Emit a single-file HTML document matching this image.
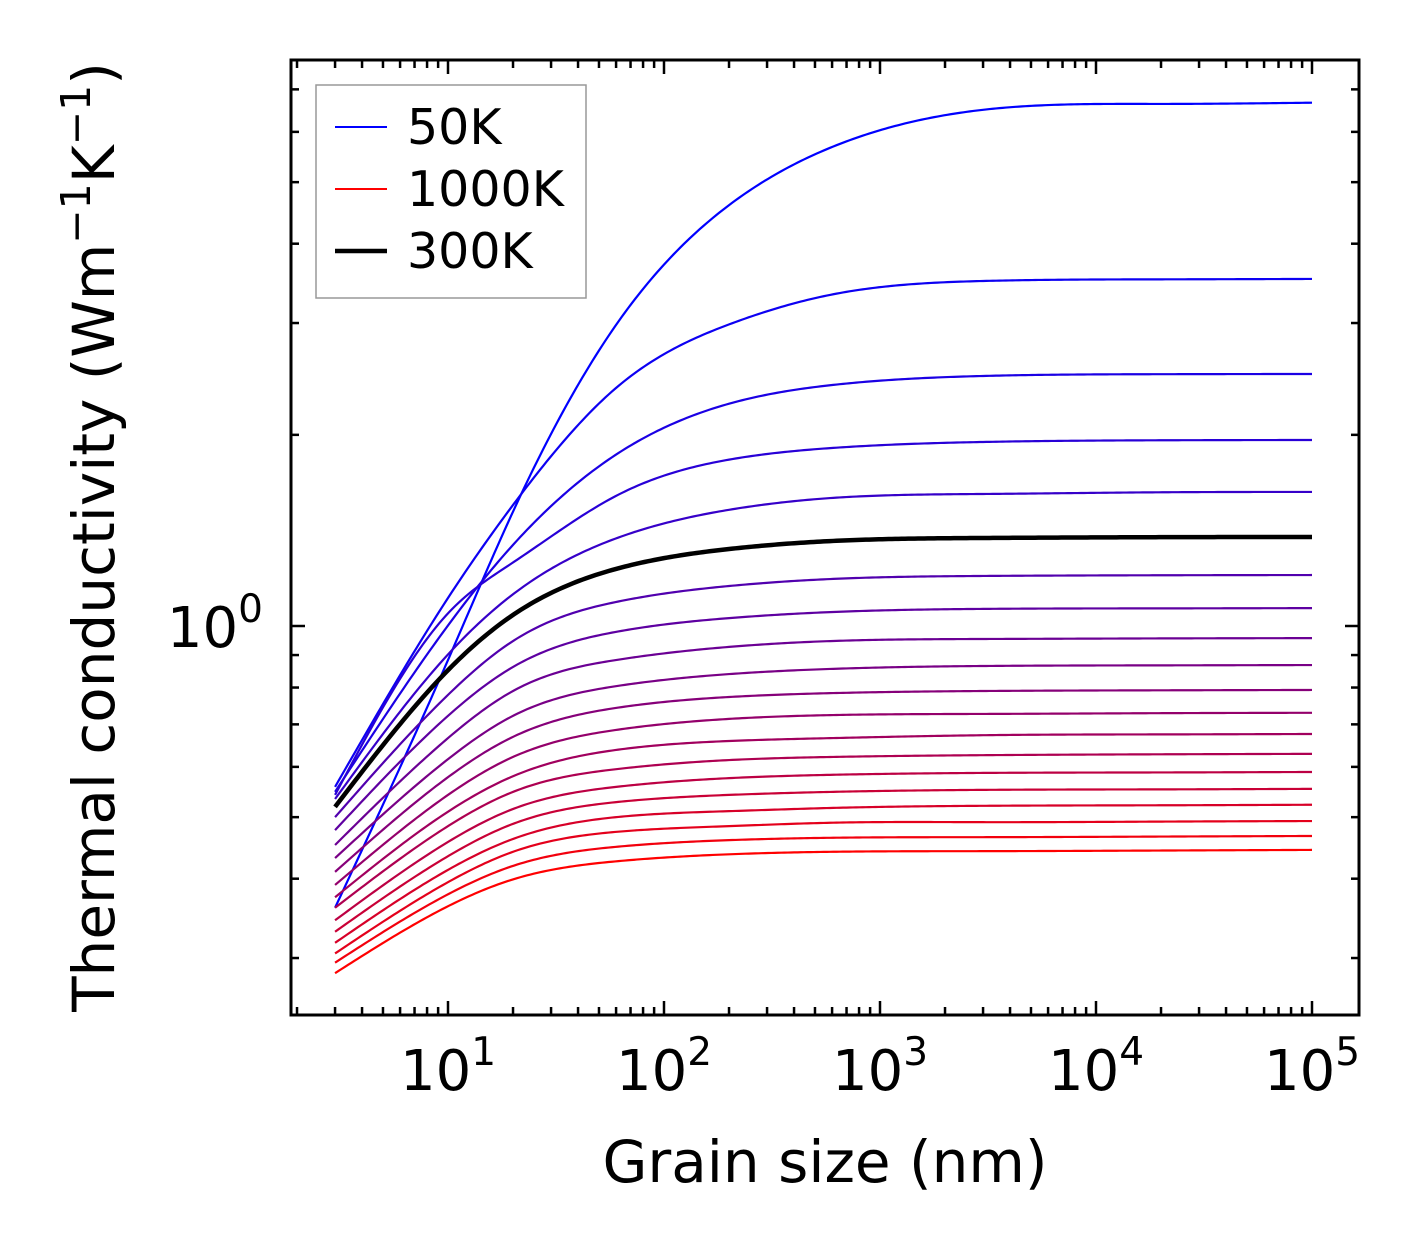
<!DOCTYPE html>
<html><head><meta charset="utf-8">
<style>
html,body{margin:0;padding:0;background:#fff;}
svg text{font-family:"DejaVu Sans","Liberation Sans",sans-serif;fill:#000;}
</style></head>
<body>
<svg id="chart" width="1421" height="1254" viewBox="0 0 1421 1254" xmlns="http://www.w3.org/2000/svg">
<rect width="1421" height="1254" fill="#fff"/>
<g id="curves"></g>
<g id="ticks"></g>
<rect x="291" y="60" width="1068" height="955" fill="none" stroke="#000" stroke-width="3"/>
<g id="xlabels"></g>
<g id="ylabels"></g>
<text x="825" y="1182" font-size="58" text-anchor="middle">Grain size (nm)</text>
<text transform="translate(114,537) rotate(-90)" font-size="58" text-anchor="middle">Thermal conductivity (Wm<tspan baseline-shift="super" font-size="41">−1</tspan>K<tspan baseline-shift="super" font-size="41">−1</tspan>)</text>
<g>
<rect x="316" y="85" width="270" height="213" fill="#fff" stroke="#999" stroke-width="1.5"/>
<g>
<line x1="335" y1="127" x2="387" y2="127" stroke="#0000ff" stroke-width="2"/>
<text x="407" y="144" font-size="49">50K</text></g>
<g>
<line x1="335" y1="189" x2="387" y2="189" stroke="#ff0000" stroke-width="2"/>
<text x="407" y="206" font-size="49">1000K</text></g>
<g>
<line x1="335" y1="251" x2="387" y2="251" stroke="#000" stroke-width="4.5"/>
<text x="407" y="268" font-size="49">300K</text></g>
</g>
</svg>
<script>
const grainSizes = [3, 10, 20, 60, 200, 600, 3000, 20000, 100000];
const temperatures = [50,100,150,200,250,300,350,400,450,500,550,600,650,700,750,800,850,900,950,1000];
const k50 = [0.360, 0.884, 1.514, 2.98, 4.60, 5.68, 6.50, 6.64, 6.67];
const k100 = [0.558, 1.107, 1.551, 2.371, 2.985, 3.327, 3.494, 3.515, 3.520];
const k150 = [0.548, 1.002, 1.342, 1.862, 2.239, 2.396, 2.476, 2.492, 2.494];
const k200 = [0.542, 1.047, 1.259, 1.603, 1.828, 1.907, 1.949, 1.961, 1.963];
const k250 = [0.534, 0.902, 1.122, 1.374, 1.524, 1.591, 1.614, 1.624, 1.626];
const k300 = [0.519, 0.852, 1.041, 1.230, 1.322, 1.361, 1.376, 1.380, 1.381];
const k350 = [0.500, 0.779, 0.947, 1.091, 1.156, 1.186, 1.199, 1.202, 1.203];
const k400 = [0.477, 0.722, 0.862, 0.979, 1.029, 1.052, 1.064, 1.066, 1.067];
const k450 = [0.452, 0.666, 0.790, 0.884, 0.927, 0.947, 0.954, 0.956, 0.957];
const k500 = [0.431, 0.617, 0.722, 0.804, 0.840, 0.856, 0.865, 0.867, 0.868];
const k550 = [0.410, 0.578, 0.669, 0.743, 0.773, 0.784, 0.790, 0.792, 0.793];
const k600 = [0.391, 0.542, 0.622, 0.686, 0.714, 0.724, 0.727, 0.729, 0.730];
const k650 = [0.374, 0.510, 0.580, 0.638, 0.659, 0.666, 0.673, 0.675, 0.676];
const k700 = [0.360, 0.484, 0.548, 0.595, 0.615, 0.622, 0.626, 0.628, 0.629];
const k750 = [0.344, 0.457, 0.515, 0.558, 0.576, 0.583, 0.587, 0.588, 0.589];
const k800 = [0.330, 0.434, 0.488, 0.528, 0.542, 0.548, 0.552, 0.553, 0.554];
const k850 = [0.317, 0.413, 0.462, 0.500, 0.511, 0.517, 0.521, 0.522, 0.523];
const k900 = [0.305, 0.395, 0.441, 0.474, 0.484, 0.490, 0.491, 0.492, 0.493];
const k950 = [0.295, 0.378, 0.419, 0.449, 0.460, 0.464, 0.465, 0.466, 0.467];
const k1000 = [0.284, 0.362, 0.399, 0.426, 0.437, 0.441, 0.442, 0.443, 0.444];
const series = [k50,k100,k150,k200,k250,k300,k350,k400,k450,k500,k550,k600,k650,k700,k750,k800,k850,k900,k950,k1000];
const xTickLabels = ["1","2","3","4","5"];
const yTickLabels = ["0"];

const NS = "http://www.w3.org/2000/svg";
const X0 = 448, XD = 216;
const Y0 = 626, YD = 635;
function xs(v){ return X0 + (Math.log10(v) - 1) * XD; }
function ys(v){ return Y0 - Math.log10(v) * YD; }

// natural cubic spline in log-log space
function spline(x, y){
  const n = x.length, h = [];
  for (let i=0;i<n-1;i++) h.push(x[i+1]-x[i]);
  const a = new Array(n).fill(0), b = new Array(n).fill(1), c = new Array(n).fill(0), r = new Array(n).fill(0);
  for (let i=1;i<n-1;i++){
    a[i] = h[i-1]; b[i] = 2*(h[i-1]+h[i]); c[i] = h[i];
    r[i] = 6*((y[i+1]-y[i])/h[i] - (y[i]-y[i-1])/h[i-1]);
  }
  for (let i=1;i<n;i++){ const m = a[i]/b[i-1]; b[i] -= m*c[i-1]; r[i] -= m*r[i-1]; }
  const M = new Array(n);
  M[n-1] = r[n-1]/b[n-1];
  for (let i=n-2;i>=0;i--) M[i] = (r[i]-c[i]*M[i+1])/b[i];
  return function(t){
    let i=0; while (i<n-2 && t>x[i+1]) i++;
    const A = (x[i+1]-t)/h[i], B = (t-x[i])/h[i];
    return A*y[i] + B*y[i+1] + ((A*A*A-A)*M[i] + (B*B*B-B)*M[i+1])*h[i]*h[i]/6;
  };
}

const curves = document.getElementById('curves');
const lx = grainSizes.map(Math.log10);
let blackPath = null;
series.forEach((vals, idx) => {
  const ly = vals.map(Math.log10);
  const f = spline(lx, ly);
  const yMax = Math.max(...ly);
  const a = lx[0], b = lx[lx.length-1], N = 300;
  let d = "";
  for (let j=0;j<=N;j++){
    const l = a + (b-a)*j/N;
    const v = Math.min(f(l), yMax);
    const px = xs(Math.pow(10,l)), py = ys(Math.pow(10,v));
    d += (j?"L":"M") + px.toFixed(2) + "," + py.toFixed(2);
  }
  const p = document.createElementNS(NS,'path');
  p.setAttribute('d', d);
  p.setAttribute('fill','none');
  p.setAttribute('stroke-linejoin','round');
  const T = temperatures[idx];
  if (T === 300){
    p.setAttribute('stroke','#000'); p.setAttribute('stroke-width','4.5');
    blackPath = p;
  } else {
    const t = idx/(series.length-1);
    p.setAttribute('stroke', `rgb(${Math.round(255*t)},0,${Math.round(255*(1-t))})`);
    p.setAttribute('stroke-width','2.2');
  }
  
  
  curves.appendChild(p);
});
if (blackPath) curves.appendChild(blackPath);

const ticks = document.getElementById('ticks');
function tick(x1,y1,x2,y2,name){
  const l = document.createElementNS(NS,'line');
  l.setAttribute('x1',x1); l.setAttribute('y1',y1); l.setAttribute('x2',x2); l.setAttribute('y2',y2);
  l.setAttribute('stroke','#000'); l.setAttribute('stroke-width','2.5');
  
  
  ticks.appendChild(l);
}
for (let e=0;e<=5;e++){
  for (let m=1;m<=9;m++){
    const v = m*Math.pow(10,e), x = xs(v);
    if (x < 293 || x > 1357) continue;
    const len = m===1 ? 14 : 8;
    tick(x,1015,x,1015-len,'x-tick');
    tick(x,60,x,60+len,'x-tick-top');
  }
}
for (let e=-1;e<=0;e++){
  for (let m=1;m<=9;m++){
    const v = m*Math.pow(10,e), y = ys(v);
    if (y < 62 || y > 1013) continue;
    const len = (e===0 && m===1) ? 14 : 8;
    tick(291,y,291+len,y,'y-tick');
    tick(1359,y,1359-len,y,'y-tick-right');
  }
}
const xl = document.getElementById('xlabels');
xTickLabels.forEach(s => {
  const t = document.createElementNS(NS,'text');
  const x = xs(Math.pow(10, +s));
  t.setAttribute('x', x); t.setAttribute('y', 1090);
  t.setAttribute('font-size','56'); t.setAttribute('text-anchor','middle');
  t.innerHTML = '10<tspan dy="-25" font-size="39">' + s + '</tspan>';
  
  
  xl.appendChild(t);
});
const yl = document.getElementById('ylabels');
yTickLabels.forEach(s => {
  const t = document.createElementNS(NS,'text');
  const y = ys(Math.pow(10, +s));
  t.setAttribute('x', 263); t.setAttribute('y', y + 21);
  t.setAttribute('font-size','56'); t.setAttribute('text-anchor','end');
  t.innerHTML = '10<tspan dy="-25" font-size="39">' + s + '</tspan>';
  
  
  yl.appendChild(t);
});
</script>
</body></html>
